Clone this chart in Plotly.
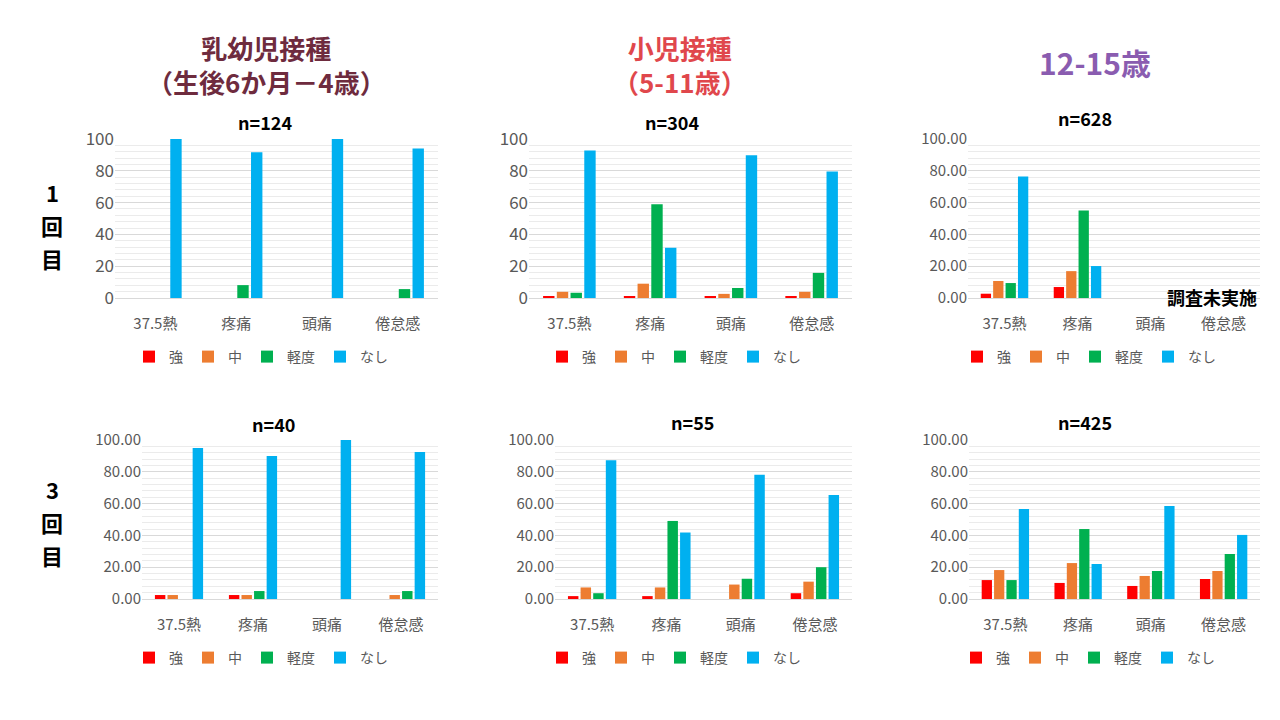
import plotly.graph_objects as go

# ---------------- data ----------------
categories = ["37.5熱", "疼痛", "頭痛", "倦怠感"]
series_names = ["強", "中", "軽度", "なし"]
series_colors = ["#FF0000", "#ED7D31", "#00B050", "#00B0F0"]

# 乳幼児接種 1回目 (n=124)
inf1_strong = [0, 0, 0, 0]
inf1_mid = [0, 0, 0, 0]
inf1_mild = [0, 8.1, 0, 5.6]
inf1_none = [100, 91.6, 100, 94.0]

# 小児接種 1回目 (n=304)
chi1_strong = [0.7, 0.7, 0.7, 0.7]
chi1_mid = [3.9, 9.0, 2.6, 3.9]
chi1_mild = [3.3, 58.9, 6.3, 15.8]
chi1_none = [92.8, 31.6, 89.8, 79.6]

# 12-15歳 1回目 (n=628) ・頭痛/倦怠感は調査未実施
teen1_strong = [2.7, 6.9, None, None]
teen1_mid = [10.7, 16.9, None, None]
teen1_mild = [9.4, 55.1, None, None]
teen1_none = [76.4, 20.1, None, None]

# 乳幼児接種 3回目 (n=40)
inf3_strong = [2.5, 2.5, 0, 0]
inf3_mid = [2.5, 2.5, 0, 2.5]
inf3_mild = [0, 5.0, 0, 5.0]
inf3_none = [95.0, 90.0, 100, 92.5]

# 小児接種 3回目 (n=55)
chi3_strong = [1.82, 1.82, 0, 3.64]
chi3_mid = [7.27, 7.27, 9.09, 10.91]
chi3_mild = [3.64, 49.09, 12.73, 20.0]
chi3_none = [87.27, 41.82, 78.18, 65.45]

# 12-15歳 3回目 (n=425)
teen3_strong = [11.9, 10.1, 8.2, 12.6]
teen3_mid = [18.2, 22.6, 14.5, 17.6]
teen3_mild = [11.9, 44.0, 17.6, 28.3]
teen3_none = [56.6, 22.0, 58.5, 40.3]

panel_titles = ["n=124", "n=304", "n=628", "n=40", "n=55", "n=425"]
group_titles = ["乳幼児接種<br>（生後6か月－4歳）", "小児接種<br>（5-11歳）", "12-15歳"]
group_colors = ["#6E2B3E", "#E0474C", "#8A5CB0"]
row_labels = [["1", "回", "目"], ["3", "回", "目"]]
note_text = "調査未実施"

panels = [
    [inf1_strong, inf1_mid, inf1_mild, inf1_none],
    [chi1_strong, chi1_mid, chi1_mild, chi1_none],
    [teen1_strong, teen1_mid, teen1_mild, teen1_none],
    [inf3_strong, inf3_mid, inf3_mild, inf3_none],
    [chi3_strong, chi3_mid, chi3_mild, chi3_none],
    [teen3_strong, teen3_mid, teen3_mild, teen3_none],
]
tick_formats = ["d", "d", ".2f", ".2f", ".2f", ".2f"]
ytick_sizes = [17, 17, 15, 15, 15, 15]

# ---------------- layout geometry (pixels) ----------------
W, H = 1280, 720
plot_x = [(115, 438), (529, 852), (968, 1260), (142, 438), (555, 852), (969, 1260)]
plot_y = [(139, 298)] * 3 + [(440, 599)] * 3
title_pos = [(265, 122), (672, 122), (1085, 118), (273, 424), (692, 422), (1085, 422)]
legend_pos = [(261, 357), (674, 357), (1089, 357), (261, 658), (674, 658), (1088, 658)]

FONT = "Noto Sans CJK JP"

def px(x):
    return x / W

def py(y):
    return 1 - y / H

fig = go.Figure()
layout = dict(
    width=W, height=H,
    margin=dict(l=0, r=0, t=0, b=0, autoexpand=False),
    paper_bgcolor="white", plot_bgcolor="white",
    barmode="group", bargap=0.32, bargroupgap=0.17,
    font=dict(family=FONT, color="#595959"),
    annotations=[],
)

for i, series in enumerate(panels):
    k = i + 1
    ax = "" if k == 1 else str(k)
    leg = "legend" if k == 1 else f"legend{k}"
    for name, color, vals in zip(series_names, series_colors, series):
        fig.add_trace(go.Bar(
            x=categories, y=vals, name=name,
            marker=dict(color=color, line=dict(width=0)),
            xaxis=f"x{ax}", yaxis=f"y{ax}", legend=leg,
            hoverinfo="x+y+name",
        ))
    x0, x1 = plot_x[i]
    y0, y1 = plot_y[i]
    layout[f"xaxis{ax}"] = dict(
        domain=[px(x0), px(x1)], anchor=f"y{ax}",
        type="category", range=[-0.5, 3.5],
        showgrid=False, zeroline=False,
        showline=True, linecolor="#D9D9D9", linewidth=1,
        ticks="", ticklabelstandoff=12,
        tickfont=dict(family=FONT, size=15, color="#595959"),
        fixedrange=True,
    )
    layout[f"yaxis{ax}"] = dict(
        domain=[py(y1), py(y0)], anchor=f"x{ax}",
        range=[0, 100], dtick=20, tick0=0,
        tickformat=tick_formats[i],
        showgrid=True, gridcolor="#D9D9D9", gridwidth=1,
        minor=dict(dtick=4, showgrid=True, gridcolor="#EBEBEB", gridwidth=1),
        zeroline=False, showline=False, ticks="",
        tickfont=dict(family=FONT, size=ytick_sizes[i], color="#595959"),
        fixedrange=True,
    )
    lx, ly = legend_pos[i]
    layout[leg] = dict(
        orientation="h", x=px(lx), y=py(ly),
        xanchor="center", yanchor="middle",
        bgcolor="rgba(0,0,0,0)", traceorder="normal",
        font=dict(family=FONT, size=14, color="#595959"),
        itemclick=False, itemdoubleclick=False,
    )
    tx, ty = title_pos[i]
    layout["annotations"].append(dict(
        text=f"<b>{panel_titles[i]}</b>", x=px(tx), y=py(ty),
        xref="paper", yref="paper", xanchor="center", yanchor="middle",
        showarrow=False, font=dict(family=FONT, size=18, color="#000000"),
    ))

# group titles
for (gx, gy), text, color, size in zip([(266, 64), (680, 64), (1095, 62)],
                                        group_titles, group_colors, [26, 26, 30]):
    layout["annotations"].append(dict(
        text=f"<b>{text}</b>", x=px(gx), y=py(gy),
        xref="paper", yref="paper", xanchor="center", yanchor="middle",
        showarrow=False, font=dict(family=FONT, size=size, color=color),
    ))

# row labels (one character per line)
row_centers = [[192, 225, 258], [489, 522, 555]]
for chars, ys in zip(row_labels, row_centers):
    for ch, ry in zip(chars, ys):
        layout["annotations"].append(dict(
            text=f"<b>{ch}</b>", x=px(52), y=py(ry),
            xref="paper", yref="paper", xanchor="center", yanchor="middle",
            showarrow=False, font=dict(family=FONT, size=22, color="#000000"),
        ))

# note for 12-15 dose 1
layout["annotations"].append(dict(
    text=f"<b>{note_text}</b>", x=px(1212), y=py(297),
    xref="paper", yref="paper", xanchor="center", yanchor="middle",
    showarrow=False, font=dict(family=FONT, size=18, color="#000000"),
))

fig.update_layout(**layout)
fig.write_html("out.html")
